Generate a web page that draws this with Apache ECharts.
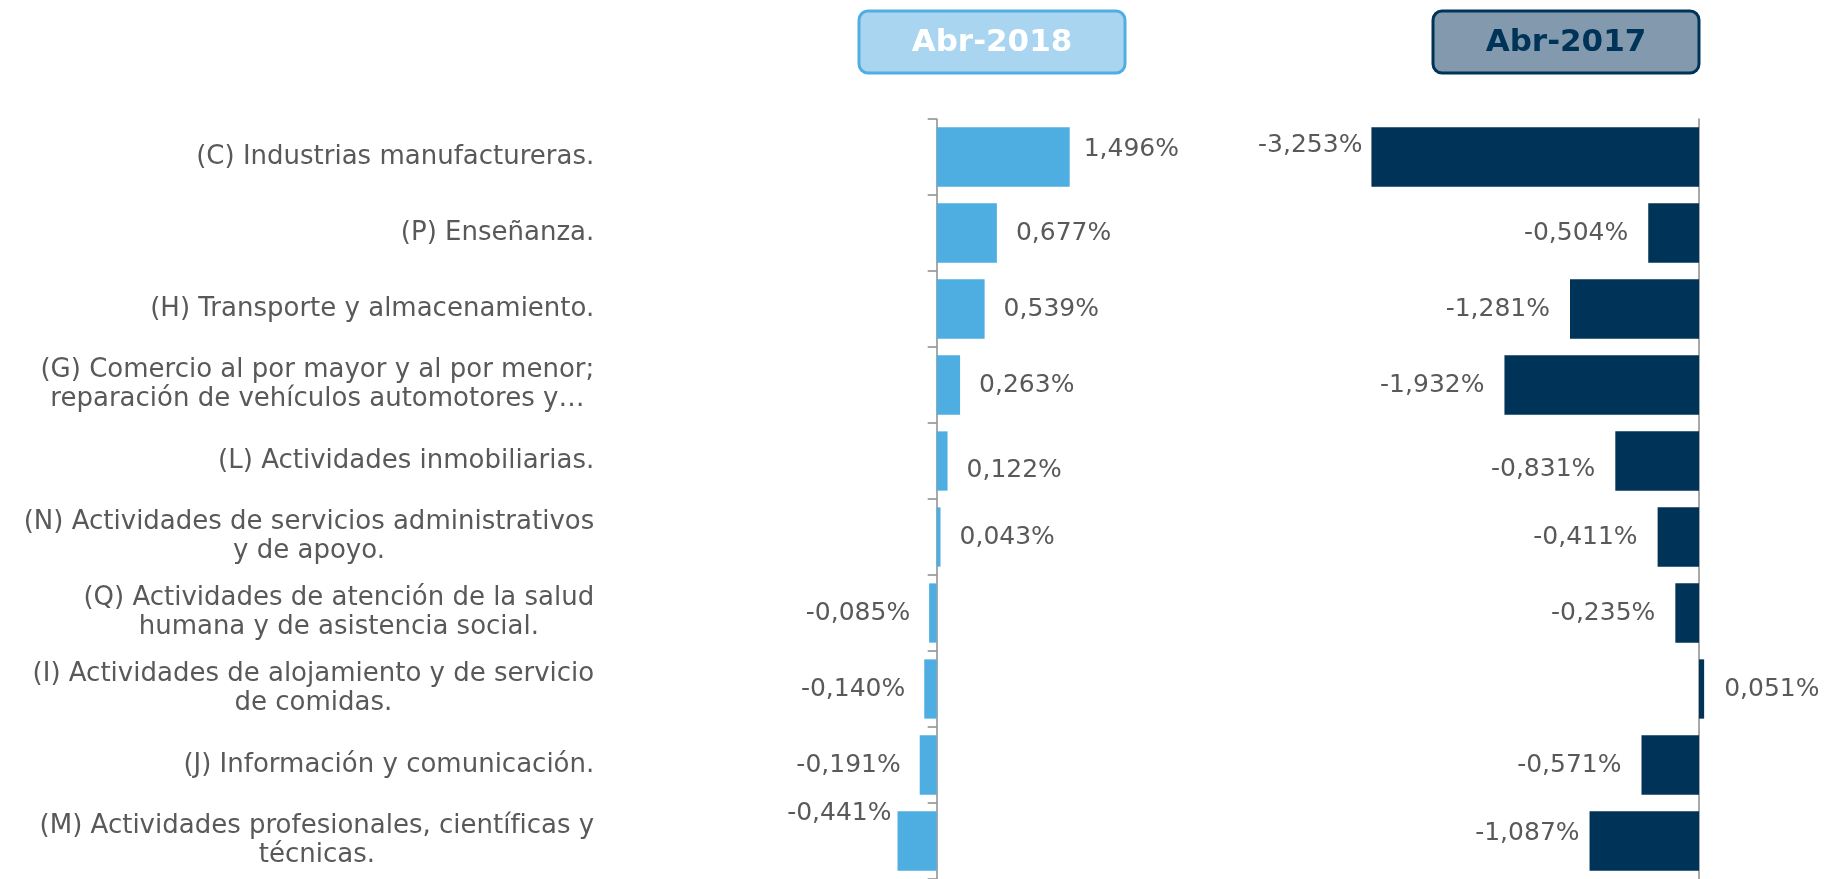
<!DOCTYPE html>
<html lang="es">
<head>
<meta charset="UTF-8">
<title>Abr-2018 vs Abr-2017</title>
<script src="https://cdn.jsdelivr.net/npm/echarts@6/dist/echarts.min.js"></script>
<style>html, body { margin: 0; padding: 0; background: #fff; }</style>
</head>
<body>
<div id="main" style="width:1826px;height:879px;"></div>
<script>
// sectores (orden del gráfico, de arriba hacia abajo)
const categories = [
    '(C) Industrias manufactureras.',
    '(P) Enseñanza.',
    '(H) Transporte y almacenamiento.',
    '(G) Comercio al por mayor y al por menor;\nreparación de vehículos automotores y…',
    '(L) Actividades inmobiliarias.',
    '(N) Actividades de servicios administrativos\ny de apoyo.',
    '(Q) Actividades de atención de la salud\nhumana y de asistencia social.',
    '(I) Actividades de alojamiento y de servicio\nde comidas.',
    '(J) Información y comunicación.',
    '(M) Actividades profesionales, científicas y\ntécnicas.'
];
const headers = ['Abr-2018', 'Abr-2017'];
const abr2018 = [1.496, 0.677, 0.539, 0.263, 0.122, 0.043, -0.085, -0.140, -0.191, -0.441];
const abr2017 = [-3.253, -0.504, -1.281, -1.932, -0.831, -0.411, -0.235, 0.051, -0.571, -1.087];

const FONT = "'DejaVu Sans', sans-serif";
const GRAY = '#595959';
const AXIS = '#8c8c8c';

function pct(v) {
    return v.toFixed(3).replace('.', ',') + '%';
}

// small manual label nudges, like the hand-placed labels of the original
const nudge = [
    { 0: { offset: [0, -8], distance: 14 }, 4: { offset: [0, 9] }, 9: { offset: [0, -28], distance: 6 } },
    { 0: { offset: [0, -12], distance: 9 }, 4: { offset: [0, 8] }, 9: { offset: [0, -8], distance: 10 } }
];

function barData(values, k) {
    return values.map((v, i) => {
        const lab = Object.assign({ position: v < 0 ? 'left' : 'right' }, nudge[k][i] || {});
        return { value: v, label: lab };
    });
}

const top0 = 119, h0 = 762;

const option = {
    animation: false,
    grid: [
        { left: 892.25, width: 222.25, top: top0, height: h0 },
        { left: 1346.55, width: 402.8, top: top0, height: h0 }
    ],
    xAxis: [
        { type: 'value', gridIndex: 0, min: -0.5, max: 2, show: false },
        { type: 'value', gridIndex: 1, min: -3.5, max: 0.5, show: false }
    ],
    yAxis: [
        {
            type: 'category', gridIndex: 0, data: categories, inverse: true,
            axisLine: { onZero: true, lineStyle: { color: AXIS, width: 1.5 } },
            axisTick: { show: true, length: 9, lineStyle: { color: AXIS, width: 1.5 } },
            axisLabel: {
                margin: 298, align: 'right', color: GRAY,
                fontFamily: FONT, fontSize: 26, lineHeight: 29,
                formatter: s => s.split('\n').map(l => '{c|' + l + '}').join('\n'),
                rich: { c: { align: 'center', color: GRAY, fontFamily: FONT, fontSize: 26, lineHeight: 29 } }
            }
        },
        {
            type: 'category', gridIndex: 1, data: categories, inverse: true,
            axisLine: { onZero: true, lineStyle: { color: AXIS, width: 1.5 } },
            axisTick: { show: false },
            axisLabel: { show: false }
        }
    ],
    series: [
        {
            name: headers[0], type: 'bar', xAxisIndex: 0, yAxisIndex: 0,
            data: barData(abr2018, 0), barCategoryGap: '22%',
            itemStyle: { color: '#4faee1' },
            label: { show: true, distance: 19, color: GRAY, fontFamily: FONT, fontSize: 25, formatter: p => pct(p.value) }
        },
        {
            name: headers[1], type: 'bar', xAxisIndex: 1, yAxisIndex: 1,
            data: barData(abr2017, 1), barCategoryGap: '22%',
            itemStyle: { color: '#003358' },
            label: { show: true, distance: 20, color: GRAY, fontFamily: FONT, fontSize: 25, formatter: p => pct(p.value) }
        }
    ],
    graphic: [
        {
            type: 'rect', shape: { x: 859, y: 11, width: 266, height: 62, r: 9 },
            style: { fill: '#a9d5f0', stroke: '#51aee2', lineWidth: 3 }
        },
        {
            type: 'text', x: 992, y: 43,
            style: { text: headers[0], fill: '#ffffff', fontFamily: FONT, fontWeight: 'bold', fontSize: 31, align: 'center', verticalAlign: 'middle' }
        },
        {
            type: 'rect', shape: { x: 1433, y: 11, width: 266, height: 62, r: 9 },
            style: { fill: '#8299ae', stroke: '#003358', lineWidth: 3 }
        },
        {
            type: 'text', x: 1566, y: 43,
            style: { text: headers[1], fill: '#003358', fontFamily: FONT, fontWeight: 'bold', fontSize: 31, align: 'center', verticalAlign: 'middle' }
        }
    ]
};

const chart = echarts.init(document.getElementById('main'));
chart.setOption(option);
</script>
</body>
</html>
